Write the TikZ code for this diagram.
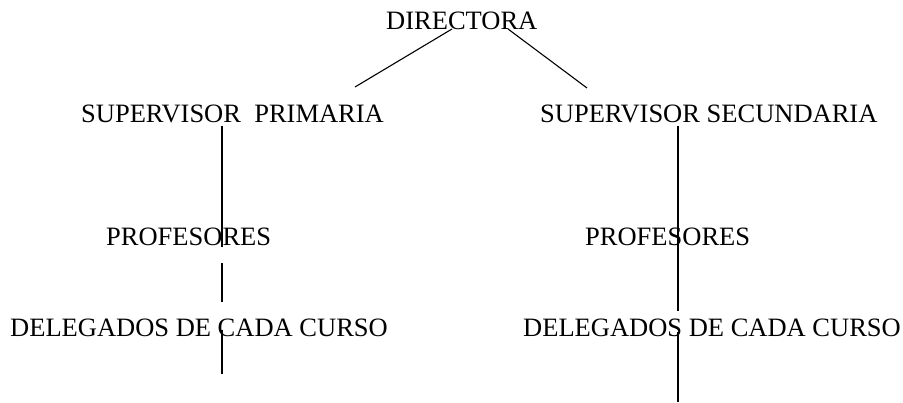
\documentclass[tikz,border=0pt]{standalone}
\usepackage{fontspec}
\setmainfont{Liberation Serif}
\begin{document}
\begin{tikzpicture}[x=1pt,y=-1pt,
  lbl/.style={anchor=base west,inner sep=0pt,font=\fontsize{26.5}{30}\selectfont},
  conn/.style={draw=black,line width=1.1pt}]
\useasboundingbox[fill=white] (0,0) rectangle (903,403);
% texts
\node[lbl] (dir) at (386,30) {DIRECTORA};
\node[lbl] (supp) at (81,122.5) {SUPERVISOR~~PRIMARIA};
\node[lbl] (sups) at (540,122.5) {SUPERVISOR SECUNDARIA};
\node[lbl] (profl) at (106,245.5) {PROFESORES};
\node[lbl] (profr) at (585,245.5) {PROFESORES};
\node[lbl] (dell) at (10,337) {DELEGADOS DE CADA CURSO};
\node[lbl] (delr) at (523,337) {DELEGADOS DE CADA CURSO};
% connector end points
\coordinate (da) at (452,29);  \coordinate (pa) at (355,87);
\coordinate (db) at (508,29);  \coordinate (sb) at (587,88);
\coordinate (l1) at (222,126); \coordinate (l2) at (222,247);
\coordinate (l3) at (222,263); \coordinate (l4) at (222,302);
\coordinate (l5) at (222,330); \coordinate (l6) at (222,374);
\coordinate (r1) at (678,126); \coordinate (r2) at (678,311);
\coordinate (r3) at (678,332); \coordinate (r4) at (678,402);
% connectors
\draw[conn] (da) -- (pa);
\draw[conn] (db) -- (sb);
\draw[conn] (l1) -- (l2);
\draw[conn] (l3) -- (l4);
\draw[conn] (l5) -- (l6);
\draw[conn] (r1) -- (r2);
\draw[conn] (r3) -- (r4);
\end{tikzpicture}
\end{document}
